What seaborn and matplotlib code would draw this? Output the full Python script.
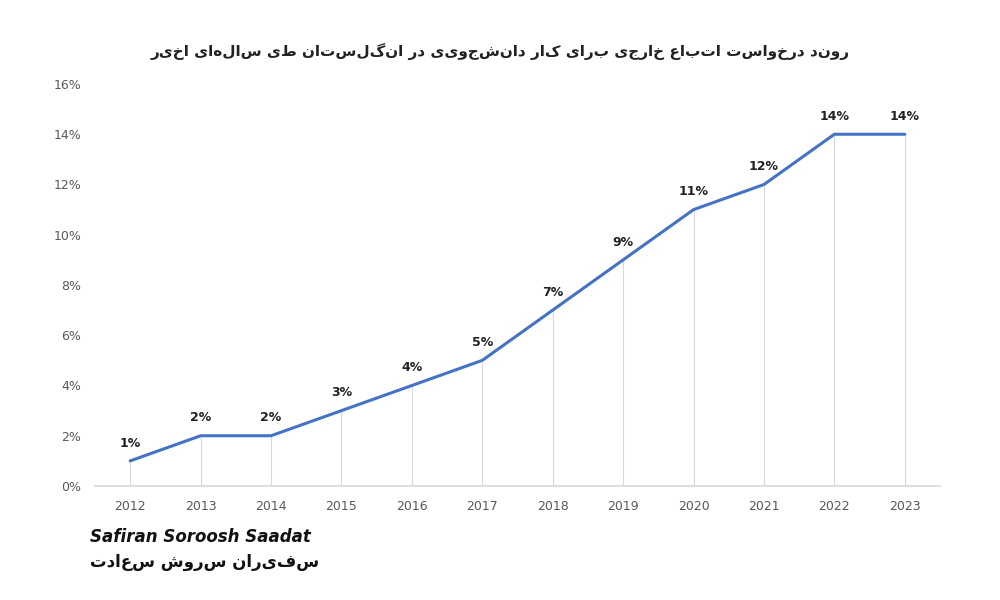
import matplotlib
matplotlib.use("Agg")
import matplotlib.pyplot as plt
import seaborn as sns
import pandas as pd

years = [2012, 2013, 2014, 2015, 2016, 2017, 2018, 2019, 2020, 2021, 2022, 2023]
values = [1, 2, 2, 3, 4, 5, 7, 9, 11, 12, 14, 14]
yticks = [0, 2, 4, 6, 8, 10, 12, 14, 16]
title = "روند درخواست اتباع خارجی برای کار دانشجویی در انگلستان طی سالهای اخیر"
brand_fa = "سفیران سروش سعادت"

def shape(t):
    try:
        import arabic_reshaper
        from bidi.algorithm import get_display
        return get_display(arabic_reshaper.reshape(t))
    except Exception:
        return t[::-1]

sns.set_theme(style="white")
plt.rcParams['font.family'] = ['DejaVu Sans']

fig = plt.figure(figsize=(10, 6), dpi=100)
ax = fig.add_axes([0.095, 0.19, 0.845, 0.67])
df = pd.DataFrame({"year": years, "value": values})
ax.vlines(years, 0, values, color="#d9d9d9", linewidth=0.8, zorder=1)
sns.lineplot(data=df, x="year", y="value", ax=ax, color="#4472C4", linewidth=2.2, zorder=3)
for x, y in zip(years, values):
    ax.text(x, y + 0.45, f"{y}%", ha="center", va="bottom", fontsize=9, fontweight="bold", color="#222222")
ax.set_xlim(2011.5, 2023.5)
ax.set_ylim(0, 16)
ax.set_yticks(yticks)
ax.set_yticklabels([f"{v}%" for v in yticks], fontsize=9, color="#595959")
ax.set_xticks(years)
ax.set_xticklabels([str(y) for y in years], fontsize=9, color="#595959")
ax.grid(False)
ax.set_xlabel("")
ax.set_ylabel("")
for s in ["top", "right", "left"]:
    ax.spines[s].set_visible(False)
ax.spines["bottom"].set_color("#d9d9d9")
ax.tick_params(axis="both", length=0, pad=10)

fig.text(0.5, 0.915, shape(title), ha="center", va="center", fontsize=11, fontweight="bold", color="#222222")
fig.text(0.09, 0.097, "Safiran Soroosh Saadat", fontsize=12, fontweight="bold", fontstyle="italic", color="#111111")
fig.text(0.09, 0.055, shape(brand_fa), fontsize=12, fontweight="bold", color="#111111")
fig.savefig("out.png", dpi=100, facecolor="white")
